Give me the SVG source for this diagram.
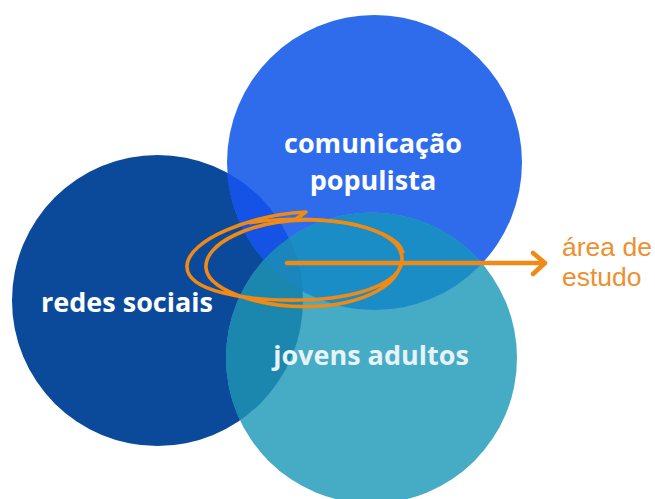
<svg xmlns="http://www.w3.org/2000/svg" width="655" height="499" viewBox="0 0 655 499">
  <style>
    .lbl { font-family: "Open Sans", "Liberation Sans", sans-serif; font-weight: 700; font-size: 27px; fill: #FFFFFF; text-anchor: middle; }
    .note { font-family: "Liberation Sans", Arial, sans-serif; font-size: 26.5px; fill: #EC9030; }
    .ink { fill: none; stroke: #EF8A17; stroke-linecap: round; stroke-linejoin: round; }
  </style>
  <defs>
    <clipPath id="cDark"><circle cx="157.5" cy="300.5" r="145.5"/></clipPath>
    <clipPath id="cBlue"><circle cx="374.5" cy="162.5" r="147.5"/></clipPath>
    <clipPath id="cTeal"><circle cx="371.5" cy="358" r="145.5"/></clipPath>
  </defs>
  <rect width="655" height="499" fill="#FFFFFF"/>

  <g id="node-redes-sociais">
    <circle cx="157.5" cy="300.5" r="145.5" fill="#0B4A9B"/>
  </g>
  <g id="node-comunicacao-populista">
    <circle cx="374.5" cy="162.5" r="147.5" fill="#2E6CEB"/>
  </g>
  <g id="node-jovens-adultos">
    <circle cx="371.5" cy="358" r="145.5" fill="#46ABC4"/>
  </g>

  <g id="overlaps">
    <g clip-path="url(#cDark)">
      <circle cx="374.5" cy="162.5" r="147.5" fill="#1553E6"/>
    </g>
    <g clip-path="url(#cTeal)">
      <circle cx="374.5" cy="162.5" r="147.5" fill="#1B8DC6"/>
      <circle cx="157.5" cy="300.5" r="145.5" fill="#1B87AF"/>
      <g clip-path="url(#cBlue)">
        <circle cx="157.5" cy="300.5" r="145.5" fill="#1A86BC"/>
      </g>
    </g>
  </g>

  <g id="labels">
    <text class="lbl" x="127" y="312">redes sociais</text>
    <text class="lbl" x="373" y="153">comunicação</text>
    <text class="lbl" x="373" y="190">populista</text>
    <text class="lbl" x="371" y="365" style="fill:#E6F3F7">jovens adultos</text>
  </g>

  <g id="connectors">
    <path class="ink" stroke-width="3.6" d="M 296 219 L 306 212 C 250 215 188 240 187 266 C 186 291 245 301 300 300 C 360 299 403 282 402 258 C 401 236 360 219 305 220 C 252 221 204 243 206 268 C 208 293 270 310 322 306 C 368 302 398 284 401 262"/>
    <path class="ink" stroke-width="3.2" d="M 250 223 C 310 212 395 225 403 252"/>
    <line class="ink" stroke-width="4.5" x1="287" y1="263" x2="544" y2="263"/>
    <polyline class="ink" stroke-width="4.5" points="533,253 545,263 533,274"/>
  </g>

  <g id="annotation">
    <text class="note" x="562" y="256">área de</text>
    <text class="note" x="562" y="286">estudo</text>
  </g>
</svg>
